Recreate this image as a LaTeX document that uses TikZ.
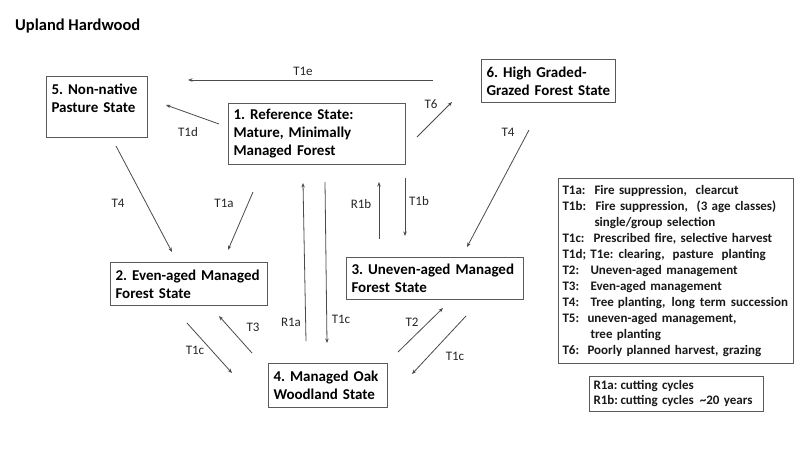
\documentclass[tikz,border=0pt]{standalone}
\usepackage{fontspec}
\setmainfont{Carlito}
\usetikzlibrary{arrows.meta}
\definecolor{boxgray}{HTML}{5A5A5A}
\definecolor{linegray}{HTML}{4A4A4A}
\frenchspacing
\begin{document}
\begin{tikzpicture}[x=1pt,y=-1pt,
  box/.style={draw=boxgray, line width=1pt, anchor=north west, align=left,
    font=\bfseries\fontsize{15}{18}\selectfont, inner xsep=5pt, inner ysep=3pt, text=black},
  conn/.style={draw=linegray, line width=0.8pt, -{Stealth[length=4.5pt,width=3.5pt]}},
  lab/.style={font=\fontsize{13}{15}\selectfont, text=black!85},
  legend/.style={draw=boxgray, line width=1pt, anchor=north west, align=left,
    font=\bfseries\fontsize{13}{16}\selectfont, inner xsep=4pt, inner ysep=3pt, text=black!90}]
\useasboundingbox (0,0) rectangle (800,450);
\fill[white] (0,0) rectangle (800,450);

\node[anchor=west, inner sep=0pt, font=\bfseries\fontsize{16.5}{18}\selectfont] (title) at (15,26) {Upland Hardwood};

% state boxes
\node[box, text width=91pt, minimum height=61pt] (s5) at (46,76) {5. Non-native\\Pasture State\\\mbox{}};
\node[box, text width=167pt, minimum height=61pt] (s1) at (228,103) {1. Reference State:\\Mature, Minimally\\Managed Forest};
\node[box, text width=124pt, minimum height=43pt] (s6) at (481,59) {6. High Graded-\\Grazed Forest State};
\node[box, text width=147pt, minimum height=43pt] (s2) at (110,262) {2. Even-aged Managed\\Forest State};
\node[box, text width=167pt, minimum height=42pt] (s3) at (346,257) {3. Uneven-aged Managed\\Forest State};
\node[box, text width=109pt, minimum height=44pt] (s4) at (268,363) {4. Managed Oak\\Woodland State};

% legends
\node[legend, text width=227pt, minimum height=185pt] (leg1) at (558,178) {%
\makebox[32pt][l]{T1a:}Fire suppression,\ \ clearcut\\
\makebox[33pt][l]{T1b:}Fire suppression,\ \ (3 age classes)\\
\hspace*{32pt}single/group selection\\
\makebox[31pt][l]{T1c:}Prescribed fire, selective harvest\\
\mbox{T1d; T1e:\hspace{5pt}clearing,\hspace{8pt}pasture\hspace{8pt}planting}\\
\makebox[28pt][l]{T2:}Uneven-aged management\\
\makebox[28pt][l]{T3:}Even-aged management\\
\mbox{\makebox[28pt][l]{T4:}Tree\hspace{4pt}planting,\hspace{6pt}long\hspace{5pt}term\hspace{5pt}succession}\\
\makebox[25pt][l]{T5:}uneven-aged management,\\
\hspace*{28pt}tree planting\\
\makebox[25pt][l]{T6:}Poorly planned harvest, grazing};
\node[legend, text width=166pt, minimum height=35pt, font=\bfseries\fontsize{13}{15}\selectfont] (leg2) at (589,376) {%
\makebox[27pt][l]{R1a:}cutting cycles\\
\makebox[27pt][l]{R1b:}cutting cycles\hspace{6pt}\textasciitilde20 years};

% connector end points
\coordinate (e1a) at (433,80);   \coordinate (e1b) at (188,80);
\coordinate (d1a) at (219,124);  \coordinate (d1b) at (166,105);
\coordinate (g1a) at (417,137);  \coordinate (g1b) at (452,102);
\coordinate (f6a) at (529,130);  \coordinate (f6b) at (467,247);
\coordinate (f5a) at (116,146);  \coordinate (f5b) at (172,252);
\coordinate (aa) at (253,192);   \coordinate (ab) at (228,250);
\coordinate (ra1) at (306,341);  \coordinate (ra2) at (303,183);
\coordinate (ca1) at (325,182);  \coordinate (ca2) at (327,343);
\coordinate (rb1) at (379,239);  \coordinate (rb2) at (379,182);
\coordinate (tb1) at (405,178);  \coordinate (tb2) at (405,236);
\coordinate (t2a) at (398,352);  \coordinate (t2b) at (443,308);
\coordinate (cr1) at (466,316);  \coordinate (cr2) at (412,374);
\coordinate (t3a) at (252,353);  \coordinate (t3b) at (219,316);
\coordinate (cl1) at (187,323);  \coordinate (cl2) at (232,373);

% connectors
\draw[conn] (e1a) -- (e1b);
\draw[conn] (d1a) -- (d1b);
\draw[conn] (g1a) -- (g1b);
\draw[conn] (f6a) -- (f6b);
\draw[conn] (f5a) -- (f5b);
\draw[conn] (aa) -- (ab);
\draw[conn] (ra1) -- (ra2);
\draw[conn] (ca1) -- (ca2);
\draw[conn] (rb1) -- (rb2);
\draw[conn] (tb1) -- (tb2);
\draw[conn] (t2a) -- (t2b);
\draw[conn] (cr1) -- (cr2);
\draw[conn] (t3a) -- (t3b);
\draw[conn] (cl1) -- (cl2);

% labels
\node[lab] (l1e) at (303,71) {T1e};
\node[lab] (l1d) at (188,132) {T1d};
\node[lab] (l6) at (431,104) {T6};
\node[lab] (l4a) at (508,132) {T4};
\node[lab] (l4b) at (118,203) {T4};
\node[lab] (l1a) at (224,203) {T1a};
\node[lab] (lr1a) at (291,322) {R1a};
\node[lab] (l1cm) at (341,319) {T1c};
\node[lab] (lr1b) at (361,204) {R1b};
\node[lab] (l1b) at (419,201) {T1b};
\node[lab] (l2) at (412,322) {T2};
\node[lab] (l1cr) at (455,356) {T1c};
\node[lab] (l3) at (253,327) {T3};
\node[lab] (l1cl) at (195,350) {T1c};
\end{tikzpicture}
\end{document}
